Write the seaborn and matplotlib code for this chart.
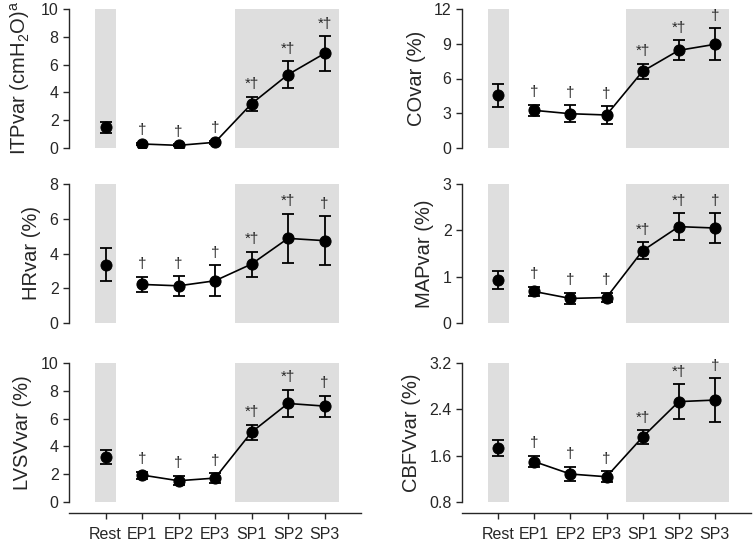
import numpy as np
import matplotlib
matplotlib.use("Agg")
import matplotlib.pyplot as plt
import seaborn as sns

# conditions
conditions = ["Rest", "EP1", "EP2", "EP3", "SP1", "SP2", "SP3"]

# means and error bars
itp_mean = [1.48, 0.29, 0.19, 0.41, 3.18, 5.28, 6.80]
itp_err = [0.40, 0.10, 0.08, 0.10, 0.50, 0.95, 1.23]
co_mean = [4.55, 3.25, 2.96, 2.85, 6.62, 8.43, 8.95]
co_err = [0.97, 0.49, 0.72, 0.75, 0.65, 0.87, 1.38]
hr_mean = [3.35, 2.22, 2.14, 2.43, 3.39, 4.87, 4.74]
hr_err = [0.95, 0.43, 0.56, 0.89, 0.72, 1.43, 1.40]
map_mean = [0.93, 0.68, 0.53, 0.55, 1.56, 2.08, 2.05]
map_err = [0.20, 0.10, 0.12, 0.10, 0.18, 0.29, 0.32]
lvsv_mean = [3.24, 1.94, 1.53, 1.72, 5.02, 7.09, 6.90]
lvsv_err = [0.53, 0.25, 0.34, 0.36, 0.53, 0.97, 0.75]
cbfv_mean = [1.736, 1.498, 1.283, 1.236, 1.922, 2.533, 2.560]
cbfv_err = [0.134, 0.100, 0.122, 0.093, 0.116, 0.303, 0.375]

# significance marks
marks_itp = ["", "†", "†", "†", "*†", "*†", "*†"]
marks_other = ["", "†", "†", "†", "*†", "*†", "†"]

sns.set_style("ticks")
plt.rcParams["font.family"] = ["Liberation Sans", "DejaVu Sans"]
plt.rcParams["mathtext.fontset"] = "custom"
plt.rcParams["mathtext.rm"] = "Liberation Sans"
plt.rcParams["mathtext.default"] = "regular"

panels = [
    ("ITPvar (cmH$_2$O)$^a$", itp_mean, itp_err, marks_itp, (0, 10), [0, 2, 4, 6, 8, 10], None),
    ("COvar (%)", co_mean, co_err, marks_other, (0, 12), [0, 3, 6, 9, 12], None),
    ("HRvar (%)", hr_mean, hr_err, marks_other, (0, 8), [0, 2, 4, 6, 8], None),
    ("MAPvar (%)", map_mean, map_err, marks_other, (0, 3), [0, 1, 2, 3], None),
    ("LVSVvar (%)", lvsv_mean, lvsv_err, marks_other, (0, 10), [0, 2, 4, 6, 8, 10], None),
    ("CBFVvar (%)", cbfv_mean, cbfv_err, marks_other, (0.8, 3.2), [0.8, 1.6, 2.4, 3.2],
     ["0.8", "1.6", "2.4", "3.2"]),
]

W, H = 756, 543
fig = plt.figure(figsize=(7.56, 5.43), dpi=100)

col_left = [69, 462]
col_width = [292, 289]
row_top = [9, 184, 363]
row_h = 139

x = np.arange(len(conditions))
gray = "#dedede"

for i, (label, mean, err, marks, ylim, yticks, ytl) in enumerate(panels):
    r, c = divmod(i, 2)
    ax = fig.add_axes([col_left[c] / W, (H - row_top[r] - row_h) / H,
                       col_width[c] / W, row_h / H])
    ax.axvspan(-0.29, 0.29, color=gray, lw=0, zorder=0)
    ax.axvspan(3.55, 6.4, color=gray, lw=0, zorder=0)

    ax.errorbar(x, mean, yerr=err, fmt="none", ecolor="black", elinewidth=1.3,
                capsize=4.5, capthick=1.3, zorder=2)
    sns.lineplot(x=x[1:], y=mean[1:], ax=ax, color="black", lw=1.2,
                 marker="o", markersize=8, markeredgecolor="black", zorder=3)
    sns.scatterplot(x=x[:1], y=mean[:1], ax=ax, color="black", s=64,
                    edgecolor="black", zorder=3)

    for xi, m, e, t in zip(x, mean, err, marks):
        if t:
            ax.annotate(t, (xi, m + e), xytext=(0, 4), textcoords="offset points",
                        ha="center", va="bottom", fontsize=11)

    ax.set_xlim(-1, 7)
    ax.set_ylim(*ylim)
    ax.set_yticks(yticks)
    if ytl:
        ax.set_yticklabels(ytl)
    ax.set_ylabel(label, fontsize=14.5, labelpad=6)
    ax.tick_params(axis="y", labelsize=11.5, length=4, width=1, direction="out")
    sns.despine(ax=ax)
    ax.spines["left"].set_linewidth(1)
    if r == 2:
        ax.spines["bottom"].set_position(("outward", 8))
        ax.spines["bottom"].set_linewidth(1)
        ax.set_xticks(x)
        ax.set_xticklabels(conditions)
        ax.tick_params(axis="x", labelsize=11.5, length=4, width=1, pad=6)
    else:
        ax.spines["bottom"].set_visible(False)
        ax.set_xticks([])

fig.savefig("out.png", dpi=100)
